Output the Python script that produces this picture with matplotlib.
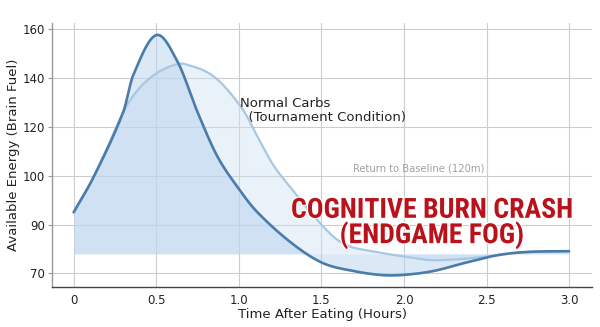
import numpy as np
import matplotlib
matplotlib.use("Agg")
import matplotlib.pyplot as plt
import matplotlib.patheffects as pe

# Hours after eating and available energy for the two meal profiles
crash_t = [0.0, 0.125, 0.30, 0.36, 0.50, 0.63, 0.75, 0.87, 1.0, 1.11,
           1.32, 1.51, 1.71, 1.87, 2.0, 2.18, 2.38, 2.57, 2.75, 3.0]
crash_energy = [92.5, 100, 126, 141, 157.5, 146.5, 126, 107.9, 97.3, 92.6,
                82.4, 74.2, 70.8, 69.3, 69.4, 71, 74.5, 77.5, 78.8, 79.1]

normal_t = [0.0, 0.125, 0.30, 0.362, 0.425, 0.489, 0.55, 0.611, 0.671, 0.85,
            1.02, 1.11, 1.21, 1.32, 1.41, 1.57, 1.67, 1.77, 1.87, 2.07, 2.17,
            2.37, 2.57, 2.70, 3.0]
normal_energy = [92.5, 100, 126, 132.8, 137.7, 141.3, 143.7, 145.3, 145.7, 140.5,
                 127.5, 116.4, 104.2, 97.3, 93.5, 85.2, 81.1, 79.5, 78.3, 76.2,
                 75.4, 76, 77.5, 78.6, 79.1]

baseline = 78
y_ticks = [70, 90, 100, 120, 140, 160]
x_ticks = [0, 0.5, 1.0, 1.5, 2.0, 2.5, 3.0]
x_tick_labels = ["0", "0.5", "1.0", "1.5", "2.0", "2.5", "3.0"]

# Axis spaces each labelled tick evenly
_pos = np.arange(len(y_ticks), dtype=float)


def to_pos(v):
    v = np.asarray(v, dtype=float)
    p = np.interp(v, y_ticks, _pos)
    p = np.where(v < y_ticks[0], (v - y_ticks[0]) / 20.0, p)
    p = np.where(v > y_ticks[-1], _pos[-1] + (v - y_ticks[-1]) / 20.0, p)
    return p


def from_pos(p):
    p = np.asarray(p, dtype=float)
    v = np.interp(p, _pos, y_ticks)
    v = np.where(p < 0, y_ticks[0] + p * 20.0, v)
    v = np.where(p > _pos[-1], y_ticks[-1] + (p - _pos[-1]) * 20.0, v)
    return v


def smooth(xs, ys, n=30):
    """Cubic Hermite curve through the points, shaped in axis space."""
    x = np.asarray(xs, float)
    y = to_pos(ys)
    m = np.empty_like(y)
    m[1:-1] = (y[2:] - y[:-2]) / (x[2:] - x[:-2])
    m[0] = (y[1] - y[0]) / (x[1] - x[0])
    m[-1] = (y[-1] - y[-2]) / (x[-1] - x[-2])
    ox, oy = [], []
    s = np.linspace(0, 1, n, endpoint=False)
    h00 = 2 * s ** 3 - 3 * s ** 2 + 1
    h10 = s ** 3 - 2 * s ** 2 + s
    h01 = -2 * s ** 3 + 3 * s ** 2
    h11 = s ** 3 - s ** 2
    for i in range(len(x) - 1):
        h = x[i + 1] - x[i]
        ox.extend(x[i] + s * h)
        oy.extend(h00 * y[i] + h10 * h * m[i] + h01 * y[i + 1] + h11 * h * m[i + 1])
    ox.append(x[-1])
    oy.append(y[-1])
    return np.array(ox), from_pos(np.array(oy))


fig = plt.figure(figsize=(6, 3.27), dpi=100)
ax = fig.add_axes([0.087, 0.122, 0.9, 0.808])
ax.set_yscale("function", functions=(to_pos, from_pos))

ct, ce = smooth(crash_t, crash_energy)
nt, ne = smooth(normal_t, normal_energy)

ax.fill_between(nt, ne, baseline, color="#cfe1f3", alpha=0.45, lw=0, zorder=1)
ax.fill_between(ct, ce, baseline, color="#b9d3ee", alpha=0.5, lw=0, zorder=1)
ax.plot(nt, ne, color="#a8c8e2", lw=1.6, zorder=3, solid_capstyle="round")
ax.plot(ct, ce, color="#4a7cab", lw=1.9, zorder=4, solid_capstyle="round")

ax.set_xlim(-0.13, 3.14)
ax.set_ylim(64.4, 162.5)
ax.set_xticks(x_ticks)
ax.set_xticklabels(x_tick_labels)
ax.set_yticks(y_ticks)
ax.set_yticklabels([str(v) for v in y_ticks])
ax.yaxis.set_minor_locator(matplotlib.ticker.NullLocator())
ax.xaxis.set_minor_locator(matplotlib.ticker.NullLocator())

ax.grid(True, color="#cccccc", lw=0.8, zorder=0)
ax.set_axisbelow(True)
for side in ("top", "right"):
    ax.spines[side].set_visible(False)
ax.spines["left"].set_color("#999999")
ax.spines["bottom"].set_color("#444444")
ax.spines["left"].set_linewidth(1.0)
ax.spines["bottom"].set_linewidth(1.0)
ax.tick_params(axis="x", length=0, pad=5, labelsize=8.5, labelcolor="#222222")
ax.tick_params(axis="y", length=3, width=0.8, color="#999999", pad=2,
               labelsize=8.5, labelcolor="#222222")

ax.set_xlabel("Time After Eating (Hours)", fontsize=9.5, color="#222222", labelpad=1)
ax.set_ylabel("Available Energy (Brain Fuel)", fontsize=9.5, color="#222222", labelpad=2)

ax.text(1.01, 126.7, "Normal Carbs\n  (Tournament Condition)", fontsize=9.5,
        color="#222222", ha="left", va="center", linespacing=1.15, zorder=5)
ax.text(1.69, 103, "Return to Baseline (120m)", fontsize=7.2, color="#a0a0a0",
        ha="left", va="center", zorder=5)
ax.text(2.17, 90.3, "COGNITIVE BURN CRASH\n(ENDGAME FOG)",
        family=["Roboto Condensed", "Roboto", "DejaVu Sans"], fontweight="heavy",
        fontsize=20, color="#ba121b", ha="center", va="center",
        linespacing=0.88, zorder=6,
        path_effects=[pe.withStroke(linewidth=1.5, foreground="white")])

fig.savefig("out.png", dpi=100)
